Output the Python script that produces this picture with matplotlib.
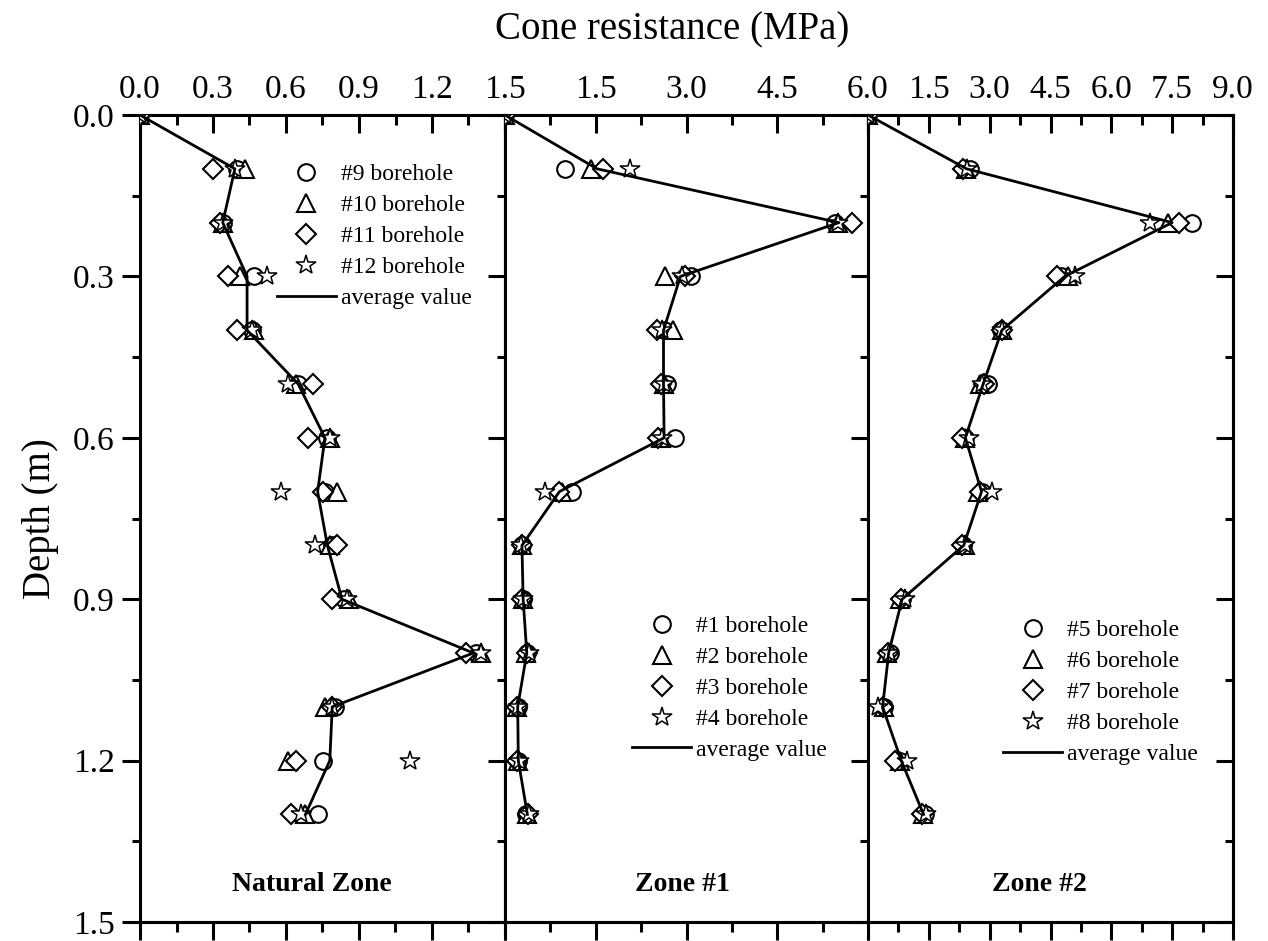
import numpy as np
import matplotlib
matplotlib.use("Agg")
import matplotlib.pyplot as plt
from matplotlib.ticker import MultipleLocator, FuncFormatter

plt.rcParams["font.family"] = ["Liberation Serif", "DejaVu Serif"]

# ---------------------------------------------------------------- data
depth = [0.0, 0.1, 0.2, 0.3, 0.4, 0.5, 0.6, 0.7, 0.8, 0.9, 1.0, 1.1, 1.2, 1.3]

# Natural zone, boreholes #9-#12 (MPa)
nat_bh9 = [0, 0.40, 0.34, 0.47, 0.46, 0.65, 0.77, 0.76, 0.79, 0.84, 1.38, 0.80, 0.75, 0.73]
nat_bh10 = [0, 0.43, 0.34, 0.41, 0.47, 0.64, 0.78, 0.81, 0.78, 0.86, 1.40, 0.76, 0.61, 0.68]
nat_bh11 = [0, 0.30, 0.33, 0.36, 0.40, 0.71, 0.69, 0.75, 0.81, 0.79, 1.34, 0.79, 0.64, 0.62]
nat_bh12 = [0, 0.39, 0.34, 0.52, 0.46, 0.61, 0.78, 0.58, 0.72, 0.85, 1.40, 0.79, 1.11, 0.66]
nat_avg = [0, 0.39, 0.34, 0.44, 0.44, 0.65, 0.76, 0.73, 0.77, 0.83, 1.37, 0.79, 0.78, 0.68]

# Zone #1, boreholes #1-#4
z1_bh1 = [0, 0.99, 5.45, 3.08, 2.62, 2.68, 2.81, 1.11, 0.28, 0.30, 0.36, 0.22, 0.22, 0.35]
z1_bh2 = [0, 1.42, 5.50, 2.64, 2.77, 2.63, 2.58, 0.95, 0.28, 0.30, 0.35, 0.20, 0.22, 0.37]
z1_bh3 = [0, 1.62, 5.74, 2.98, 2.51, 2.58, 2.53, 0.90, 0.28, 0.28, 0.36, 0.20, 0.20, 0.38]
z1_bh4 = [0, 2.07, 5.50, 2.92, 2.60, 2.62, 2.60, 0.66, 0.27, 0.30, 0.40, 0.21, 0.23, 0.40]
z1_avg = [0, 1.52, 5.52, 2.90, 2.62, 2.62, 2.63, 0.90, 0.28, 0.30, 0.36, 0.21, 0.22, 0.37]

# Zone #2, boreholes #5-#8
z2_bh5 = [0, 2.51, 7.98, 4.75, 3.28, 2.95, 2.40, 2.80, 2.35, 0.85, 0.55, 0.40, 0.80, 1.40]
z2_bh6 = [0, 2.42, 7.40, 4.93, 3.30, 2.75, 2.40, 2.72, 2.40, 0.80, 0.48, 0.40, 0.80, 1.35]
z2_bh7 = [0, 2.34, 7.68, 4.65, 3.30, 2.85, 2.32, 2.75, 2.32, 0.82, 0.50, 0.38, 0.67, 1.32]
z2_bh8 = [0, 2.45, 6.95, 5.10, 3.30, 2.82, 2.48, 3.05, 2.38, 0.90, 0.52, 0.25, 0.95, 1.42]
z2_avg = [0, 2.43, 7.50, 4.85, 3.30, 2.84, 2.40, 2.80, 2.36, 0.84, 0.51, 0.36, 0.82, 1.37]

nat_names = ["#9 borehole", "#10 borehole", "#11 borehole", "#12 borehole"]
z1_names = ["#1 borehole", "#2 borehole", "#3 borehole", "#4 borehole"]
z2_names = ["#5 borehole", "#6 borehole", "#7 borehole", "#8 borehole"]

# ---------------------------------------------------------------- layout
W, H = 1268, 941
fig = plt.figure(figsize=(W / 100, H / 100), dpi=100)

def rect(x0, x1, top=115, bot=922):
    return [x0 / W, 1 - bot / H, (x1 - x0) / W, (bot - top) / H]

panels = [
    dict(rect=rect(140, 505), xmax=1.5, major=0.3, hide0=False,
         series=[nat_bh9, nat_bh10, nat_bh11, nat_bh12], avg=nat_avg,
         names=nat_names, leg=(0.375, 0.94), zone="Natural Zone", zx=0.47),
    dict(rect=rect(505, 868), xmax=6.0, major=1.5, hide0=True,
         series=[z1_bh1, z1_bh2, z1_bh3, z1_bh4], avg=z1_avg,
         names=z1_names, leg=(0.35, 0.38), zone="Zone #1", zx=0.49),
    dict(rect=rect(868, 1233), xmax=9.0, major=1.5, hide0=True,
         series=[z2_bh5, z2_bh6, z2_bh7, z2_bh8], avg=z2_avg,
         names=z2_names, leg=(0.37, 0.375), zone="Zone #2", zx=0.47),
]
markers = ["o", "^", "D", "*"]
msizes = [12, 13, 10, 15]
mews = [1.5, 1.5, 1.5, 1.1]

SPW = 2.2
for k, p in enumerate(panels):
    ax = fig.add_axes(p["rect"])
    for s, mk, ms, mw, nm in zip(p["series"], markers, msizes, mews, p["names"]):
        ax.plot(s, depth, ls="none", marker=mk, ms=ms, mfc="white", mec="black",
                mew=mw, label=nm, zorder=3)
    ax.plot(p["avg"], depth, color="black", lw=2.0, label="average value", zorder=4)

    ax.set_xlim(0, p["xmax"])
    ax.set_ylim(1.5, 0)
    for sp in ax.spines.values():
        sp.set_linewidth(SPW)

    # top axis: labels, ticks pointing in
    ax.xaxis.set_major_locator(MultipleLocator(p["major"]))
    ax.xaxis.set_minor_locator(MultipleLocator(p["major"] / 2))
    hide0 = p["hide0"]
    ax.xaxis.set_major_formatter(FuncFormatter(
        lambda v, pos, h=hide0: "" if (h and abs(v) < 1e-9) else f"{v:.1f}"))
    ax.tick_params(axis="x", which="both", bottom=False, top=True,
                   labelbottom=False, labeltop=True, direction="in",
                   labelsize=24, pad=7, width=SPW)
    ax.tick_params(axis="x", which="major", length=13)
    ax.tick_params(axis="x", which="minor", length=7)

    # bottom axis: ticks pointing out, no labels
    bx = ax.secondary_xaxis("bottom")
    bx.xaxis.set_major_locator(MultipleLocator(p["major"]))
    bx.xaxis.set_minor_locator(MultipleLocator(p["major"] / 2))
    bx.tick_params(axis="x", which="both", direction="out", labelbottom=False,
                   width=SPW)
    bx.tick_params(axis="x", which="major", length=13)
    bx.tick_params(axis="x", which="minor", length=7)
    bx.spines["bottom"].set_linewidth(SPW)

    # depth axis: left only on the first panel, right ticks pointing in
    ax.yaxis.set_major_locator(MultipleLocator(0.3))
    ax.yaxis.set_minor_locator(MultipleLocator(0.15))
    ax.yaxis.set_major_formatter(FuncFormatter(lambda v, pos: f"{v:.1f}"))
    ax.tick_params(axis="y", which="both", direction="out", right=False,
                   left=(k == 0), labelleft=(k == 0), labelsize=24, pad=5,
                   width=SPW)
    ax.tick_params(axis="y", which="major", length=13)
    ax.tick_params(axis="y", which="minor", length=6)
    ry = ax.secondary_yaxis("right")
    ry.yaxis.set_major_locator(MultipleLocator(0.3))
    ry.yaxis.set_minor_locator(MultipleLocator(0.15))
    ry.tick_params(axis="y", which="both", direction="in", labelright=False,
                   width=SPW)
    ry.tick_params(axis="y", which="major", length=12)
    ry.tick_params(axis="y", which="minor", length=6)
    ry.spines["right"].set_linewidth(SPW)

    ax.legend(loc="upper left", bbox_to_anchor=p["leg"], frameon=False,
              fontsize=17, handlelength=2.5, handletextpad=0.2,
              labelspacing=0.4, borderpad=0, borderaxespad=0)
    ax.text(p["zx"], 0.047, p["zone"], transform=ax.transAxes, ha="center",
            va="center", fontsize=20, fontweight="bold")

    if k == 0:
        ax.set_ylabel("Depth (m)", fontsize=28, labelpad=10)

fig.text(0.53, 0.968, "Cone resistance (MPa)", ha="center", va="center",
         fontsize=28)

fig.savefig("out.png", dpi=100)
